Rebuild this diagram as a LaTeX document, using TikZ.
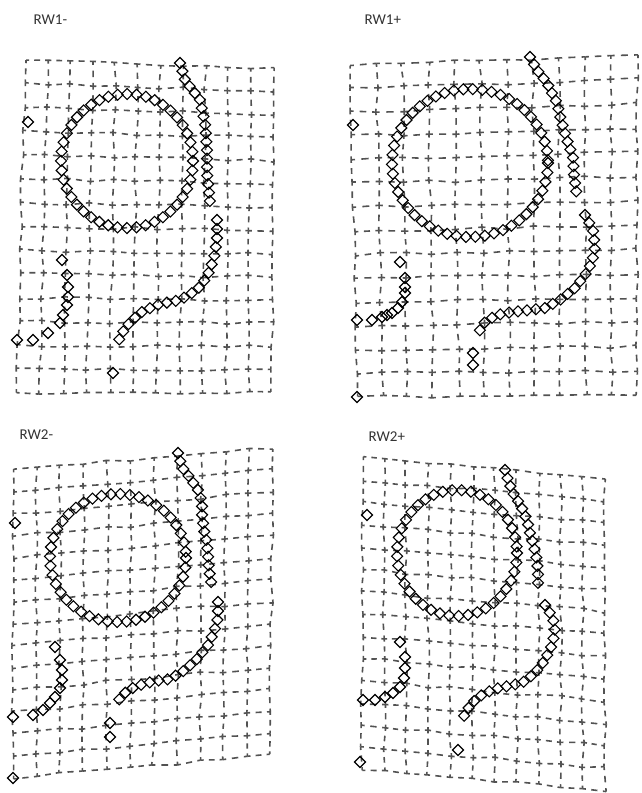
\documentclass[tikz,border=0pt]{standalone}
\usepackage{fontspec}
\setmainfont{Carlito}
\usetikzlibrary{calc,decorations.markings}
\tikzset{
  gridl/.style={draw=black!68, line width=1.6pt},
  dmd/.style={draw=black, line width=1.1pt},
  lbl/.style={font=\fontsize{15}{17}\selectfont, text=black!80, anchor=west},
  chain/.style={decorate, decoration={markings,
     mark=between positions 0 and 1 step #1 with {\pgftransformresetnontranslations
       \draw[dmd] (-5.5,0)--(0,-5.5)--(5.5,0)--(0,5.5)--cycle;}}},
}
\newcommand\dia[1]{\draw[dmd] #1 +(-5.5,0) -- +(0,-5.5) -- +(5.5,0) -- +(0,5.5) -- cycle;}
\newcommand\gedge[2]{\draw[gridl] (#1) -- ($(#1)!0.14!(#2)$) ($(#1)!0.37!(#2)$) -- ($(#1)!0.63!(#2)$) ($(#1)!0.86!(#2)$) -- (#2);}
% grid: TL, TR, BR, BL, ncols, nrows
\newcommand\wgrid[6]{%
  \coordinate (gTL) at (#1); \coordinate (gTR) at (#2);
  \coordinate (gBR) at (#3); \coordinate (gBL) at (#4);
  \foreach \j in {0,...,#6} {
    \coordinate (gL\j) at ($(gTL)!\j/#6!(gBL)$);
    \coordinate (gR\j) at ($(gTR)!\j/#6!(gBR)$);
    \foreach \i in {0,...,#5} {
      \pgfmathsetmacro\dx{1.6*rand}\pgfmathsetmacro\dy{1.6*rand}
      \coordinate (p-\i-\j) at ($(gL\j)!\i/#5!(gR\j)+(\dx,\dy)$);
    }
  }
  \foreach \j in {0,...,#6} {
    \foreach \i in {0,...,#5} {
      \pgfmathtruncatemacro\ii{\i+1}\pgfmathtruncatemacro\jj{\j+1}
      \ifnum\i<#5 \gedge{p-\i-\j}{p-\ii-\j}\fi
      \ifnum\j<#6 \gedge{p-\i-\j}{p-\i-\jj}\fi
    }
  }
}
\begin{document}
\begin{tikzpicture}[x=1pt,y=-1pt]
\pgfmathsetseed{11}
\useasboundingbox (0,0) rectangle (641,793);
\fill[white] (0,0) rectangle (641,793);

% ---------------- RW1- ----------------
\node[lbl] (l1) at (30,20) {RW1-};
\wgrid{25,60}{273,68}{272,393}{17,393}{11}{14}
\path[chain=9.5pt] (127,161) ellipse [x radius=66, y radius=67];
\path[chain=8.5pt] (180,63) -- (185,80) -- (200,100) -- (205,123) -- (207,150) -- (207,173) -- (210,202);
\path[chain=9pt] (217,220) -- (217,240) -- (214,258) -- (207,277) -- (197,290) -- (180,300) -- (160,304) -- (143,311) -- (130,322) -- (122,333) -- (118,342);
\foreach \p in {(62,260),(67,275),(68,287),(68,297),(67,305),(63,315),(60,323),(48,333),(33,340),(17,340),(28,122),(113,373)} {\dia{\p}}

% ---------------- RW1+ ----------------
\node[lbl] (l2) at (361,20) {RW1+};
\wgrid{350,65}{637,55}{637,395}{357,397}{11}{14}
\path[chain=9.5pt] (470,163) ellipse [x radius=78, y radius=74];
\path[chain=8.5pt] (530,57) -- (537,70) -- (547,83) -- (557,103) -- (561,120) -- (567,140) -- (573,157) -- (574,175) -- (577,197);
\path[chain=9pt] (585,215) -- (593,230) -- (595,247) -- (592,262) -- (585,275) -- (575,288) -- (560,300) -- (545,308) -- (530,310) -- (512,312) -- (497,315) -- (485,322) -- (477,335);
\foreach \p in {(473,353),(473,365),(400,262),(405,278),(405,287),(405,293),(402,302),(398,308),(392,313),(387,315),(382,317),(372,320),(357,320),(353,125),(357,397)} {\dia{\p}}

% ---------------- RW2- ----------------
\node[lbl] (l3) at (16,435) {RW2-};
\wgrid{13,470}{273,448}{270,755}{13,778}{11}{14}
\path[chain=9.5pt] (118,558) ellipse [x radius=68, y radius=64];
\path[chain=8.5pt] (178,453) -- (182,467) -- (190,478) -- (198,490) -- (202,502) -- (202,515) -- (204,530) -- (207,543) -- (208,556) -- (209,570) -- (212,587);
\path[chain=9pt] (218,602) -- (218,618) -- (214,632) -- (208,645) -- (198,658) -- (185,670) -- (170,679) -- (155,681) -- (140,685) -- (128,690) -- (120,698) -- (115,707);
\foreach \p in {(110,723),(110,737),(55,647),(60,660),(62,670),(62,680),(60,688),(55,697),(50,703),(43,710),(33,715),(13,717),(15,523),(13,778)} {\dia{\p}}

% ---------------- RW2+ ----------------
\node[lbl] (l4) at (365,437) {RW2+};
\wgrid{362,458}{605,478}{605,790}{362,770}{11}{14}
\path[chain=9.5pt] (457,553) ellipse [x radius=60, y radius=63];
\path[chain=8.5pt] (505,470) -- (508,480) -- (513,493) -- (521,506) -- (527,520) -- (530,533) -- (534,547) -- (537,560) -- (538,575) -- (538,590);
\path[chain=9pt] (545,605) -- (553,618) -- (555,632) -- (552,645) -- (545,660) -- (535,673) -- (522,683) -- (508,686) -- (495,689) -- (483,694) -- (473,702) -- (467,710) -- (462,720);
\foreach \p in {(458,750),(400,642),(405,657),(405,668),(404,678),(400,687),(393,693),(385,697),(375,700),(363,700),(367,515),(360,762)} {\dia{\p}}
\end{tikzpicture}
\end{document}
